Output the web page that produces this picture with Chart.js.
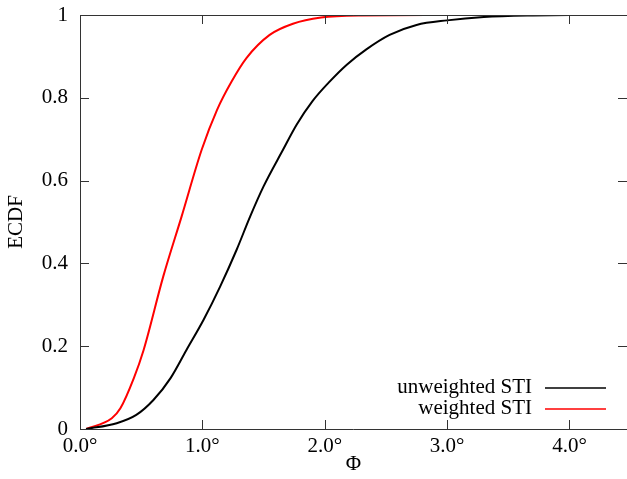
<!DOCTYPE html>
<html lang="en">
<head>
  <meta charset="UTF-8">
  <title>ECDF</title>
  <script src="https://cdn.jsdelivr.net/npm/chart.js"></script>
  <style>
    body { margin: 0; background: #fff; overflow: hidden; }
  </style>
</head>
<body>
  <canvas id="chart" width="627" height="479"></canvas>

  <script>
    // data
    const unweightedX = [0.05, 0.3, 0.46, 0.6, 0.74, 0.87, 1.01, 1.145, 1.28, 1.39, 1.5, 1.66, 1.77, 1.9, 2.03, 2.18, 2.34, 2.53, 2.75, 3.0, 3.3, 3.7, 4.0, 4.47];
    const unweightedY = [0, 0.014, 0.034, 0.07, 0.123, 0.191, 0.264, 0.344, 0.433, 0.513, 0.586, 0.675, 0.735, 0.792, 0.836, 0.88, 0.917, 0.952, 0.976, 0.987, 0.995, 0.999, 1, 1];
    const weightedX = [0.05, 0.26, 0.33, 0.44, 0.52, 0.68, 0.83, 0.995, 1.12, 1.24, 1.36, 1.55, 1.74, 1.97, 2.3, 3.0];
    const weightedY = [0, 0.026, 0.05, 0.123, 0.191, 0.368, 0.513, 0.675, 0.771, 0.84, 0.896, 0.952, 0.979, 0.994, 0.999, 1];
    const xTicks = [0, 1, 2, 3, 4];
    const yTicks = [0, 0.2, 0.4, 0.6, 0.8, 1];

    const serif = "'Liberation Serif', 'DejaVu Serif', serif";

    function pts(xs, ys) {
      return xs.map((x, i) => ({ x: x, y: ys[i] }));
    }

    // gnuplot style frame with inward ticks + legend bottom right
    const framePlugin = {
      id: "frame",
      afterDraw(chart) {
        const ctx = chart.ctx;
        const a = chart.chartArea;
        const xs = chart.scales.x;
        const ys = chart.scales.y;
        const tl = 9;
        ctx.save();
        ctx.strokeStyle = "#333";
        ctx.lineWidth = 1;
        ctx.beginPath();
        ctx.moveTo(a.right, a.top + 0.5);
        ctx.lineTo(a.left + 0.5, a.top + 0.5);
        ctx.lineTo(a.left + 0.5, a.bottom + 0.5);
        ctx.lineTo(a.right, a.bottom + 0.5);
        xTicks.forEach(v => {
          const px = Math.round(xs.getPixelForValue(v)) + 0.5;
          ctx.moveTo(px, a.bottom);
          ctx.lineTo(px, a.bottom - tl);
          ctx.moveTo(px, a.top);
          ctx.lineTo(px, a.top + tl);
        });
        yTicks.forEach(v => {
          const py = Math.round(ys.getPixelForValue(v)) + 0.5;
          ctx.moveTo(a.left, py);
          ctx.lineTo(a.left + tl, py);
          ctx.moveTo(a.right, py);
          ctx.lineTo(a.right - tl, py);
        });
        ctx.stroke();

        // legend
        ctx.font = "21px " + serif;
        ctx.textAlign = "right";
        ctx.textBaseline = "middle";
        chart.data.datasets.forEach((ds, i) => {
          const y = 387 + i * 21;
          ctx.fillStyle = "#000";
          ctx.fillText(ds.label, 532, y);
          ctx.strokeStyle = ds.borderColor;
          ctx.lineWidth = 1.5;
          ctx.beginPath();
          ctx.moveTo(545, y + 1);
          ctx.lineTo(606, y + 1);
          ctx.stroke();
        });
        ctx.restore();
      }
    };

    new Chart(document.getElementById("chart"), {
      type: "line",
      data: {
        datasets: [
          {
            label: "unweighted STI",
            data: pts(unweightedX, unweightedY),
            borderColor: "#000000",
            borderWidth: 2,
            pointRadius: 0,
            cubicInterpolationMode: "monotone",
            fill: false
          },
          {
            label: "weighted STI",
            data: pts(weightedX, weightedY),
            borderColor: "#ff0000",
            borderWidth: 2,
            pointRadius: 0,
            cubicInterpolationMode: "monotone",
            fill: false
          }
        ]
      },
      options: {
        responsive: false,
        animation: false,
        devicePixelRatio: 1,
        layout: { padding: { top: 15, right: 0, left: 0, bottom: 0 } },
        plugins: {
          legend: { display: false },
          tooltip: { enabled: false }
        },
        scales: {
          x: {
            type: "linear",
            min: 0,
            max: 4.47,
            grid: { display: false, drawTicks: false },
            border: { display: false },
            afterBuildTicks: s => { s.ticks = xTicks.map(v => ({ value: v })); },
            afterFit: s => {
              s.height = 50;
              s.paddingLeft = 0;
              s.paddingRight = 0;
            },
            ticks: {
              color: "#000",
              padding: 5,
              maxRotation: 0,
              font: { family: serif, size: 21 },
              callback: v => v.toFixed(1) + "°"
            },
            title: {
              display: true,
              text: "Φ",
              color: "#000",
              padding: { top: 0, bottom: 2 },
              font: { family: serif, size: 21 }
            }
          },
          y: {
            min: 0,
            max: 1,
            grid: { display: false, drawTicks: false },
            border: { display: false },
            afterBuildTicks: s => { s.ticks = yTicks.map(v => ({ value: v })); },
            afterFit: s => {
              s.width = 80;
              s.paddingTop = 0;
              s.paddingBottom = 0;
            },
            ticks: {
              color: "#000",
              padding: 12,
              font: { family: serif, size: 21 },
              callback: v => String(v)
            },
            title: {
              display: true,
              text: "ECDF",
              color: "#000",
              padding: { top: 4, bottom: 0 },
              font: { family: serif, size: 21 }
            }
          }
        }
      },
      plugins: [framePlugin]
    });
  </script>
</body>
</html>
